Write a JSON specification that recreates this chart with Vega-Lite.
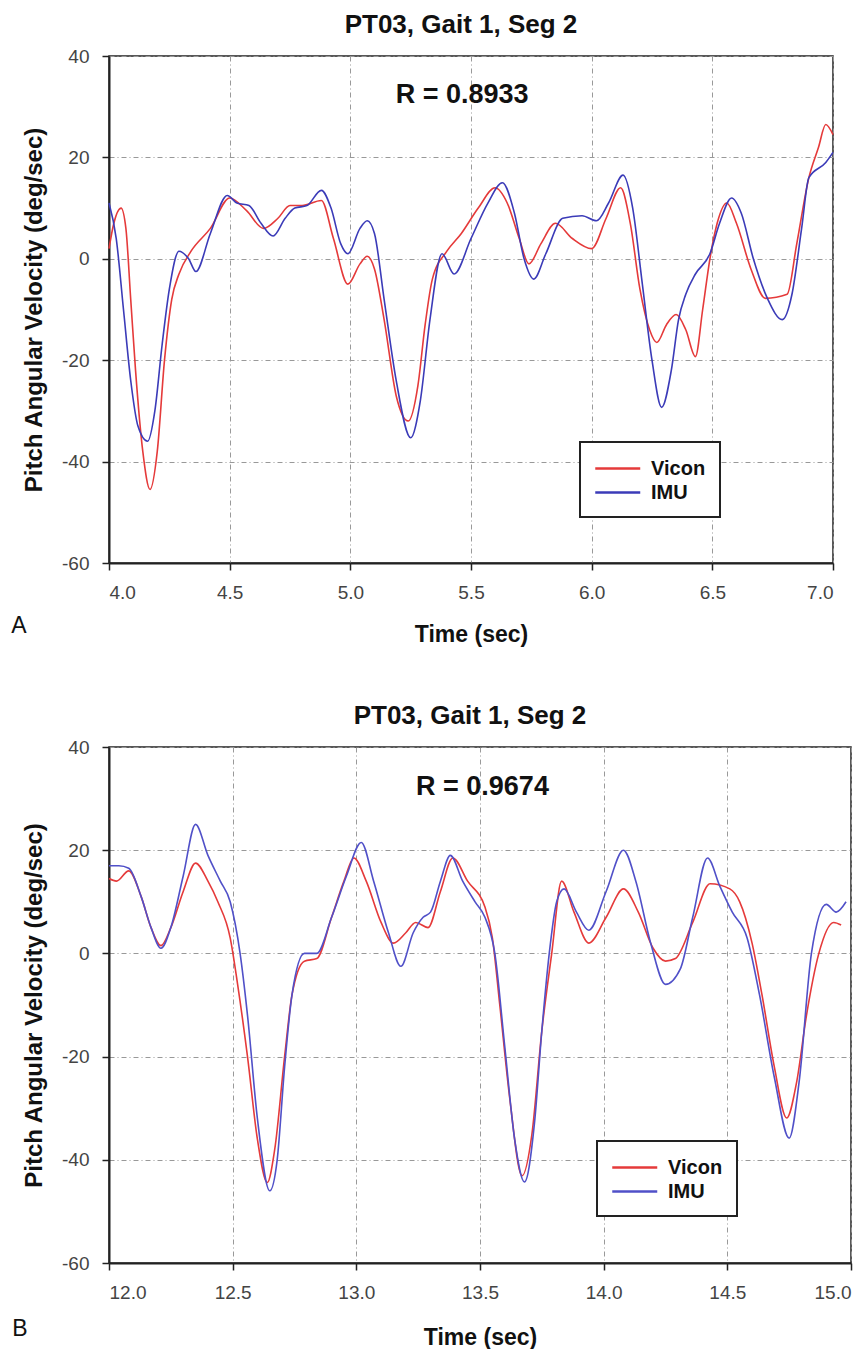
{
  "$schema": "https://vega.github.io/schema/vega-lite/v6.json",
  "background": "white",
  "padding": {"left": 10, "top": 11, "right": 10, "bottom": 0},
  "config": {
    "view": {"stroke": "#222", "strokeWidth": 1.5},
    "font": "Liberation Sans",
    "axis": {"grid": true, "gridColor": "#999", "gridDash": [5, 3, 1, 3], "gridWidth": 1, "domainColor": "#222", "domainWidth": 2, "tickColor": "#222", "tickSize": 7, "tickWidth": 1.5, "labelFont": "Liberation Sans", "labelFontSize": 19, "labelColor": "#444", "labelExpr": "datum.value < 0 ? '-' + toString(-datum.value) : datum.label", "titleFont": "Liberation Sans", "titleFontWeight": "bold", "titleColor": "#111", "titleLimit": 1000},
    "axisX": {"titleFontSize": 23, "titlePadding": 21, "labelPadding": 13},
    "axisY": {"titleFontSize": 24, "titlePadding": 15, "labelPadding": 13},
    "title": {"fontSize": 26, "fontWeight": "bold", "font": "Liberation Sans", "color": "#111", "dx": -10},
    "legend": {"strokeColor": "#222", "fillColor": "white", "padding": 14, "symbolType": "M-1,0H3", "symbolSize": 506, "symbolStrokeWidth": 2.5, "labelFont": "Liberation Sans", "labelFontSize": 20, "labelFontWeight": "bold", "labelColor": "#111", "labelOffset": 32, "rowPadding": 1}
  },
  "datasets": {
    "a": [
      {"t": 4.00, "v": 2, "series": "Vicon"}, {"t": 4.02, "v": 7, "series": "Vicon"}, {"t": 4.05, "v": 10, "series": "Vicon"}, {"t": 4.07, "v": 6, "series": "Vicon"}, {"t": 4.09, "v": -8, "series": "Vicon"}, {"t": 4.11, "v": -22, "series": "Vicon"}, {"t": 4.14, "v": -38, "series": "Vicon"}, {"t": 4.17, "v": -45.5, "series": "Vicon"}, {"t": 4.20, "v": -38, "series": "Vicon"}, {"t": 4.23, "v": -20, "series": "Vicon"}, {"t": 4.26, "v": -8, "series": "Vicon"}, {"t": 4.29, "v": -3, "series": "Vicon"}, {"t": 4.34, "v": 1.5, "series": "Vicon"}, {"t": 4.42, "v": 6, "series": "Vicon"}, {"t": 4.50, "v": 12, "series": "Vicon"}, {"t": 4.57, "v": 9.5, "series": "Vicon"}, {"t": 4.64, "v": 6, "series": "Vicon"}, {"t": 4.70, "v": 8, "series": "Vicon"}, {"t": 4.75, "v": 10.5, "series": "Vicon"}, {"t": 4.80, "v": 10.5, "series": "Vicon"}, {"t": 4.88, "v": 11.5, "series": "Vicon"}, {"t": 4.93, "v": 4, "series": "Vicon"}, {"t": 4.99, "v": -5, "series": "Vicon"}, {"t": 5.04, "v": -1, "series": "Vicon"}, {"t": 5.07, "v": 0.5, "series": "Vicon"}, {"t": 5.10, "v": -2, "series": "Vicon"}, {"t": 5.14, "v": -12, "series": "Vicon"}, {"t": 5.19, "v": -27, "series": "Vicon"}, {"t": 5.24, "v": -32, "series": "Vicon"}, {"t": 5.28, "v": -25, "series": "Vicon"}, {"t": 5.31, "v": -13, "series": "Vicon"}, {"t": 5.34, "v": -4, "series": "Vicon"}, {"t": 5.40, "v": 1.5, "series": "Vicon"}, {"t": 5.46, "v": 5, "series": "Vicon"}, {"t": 5.53, "v": 10, "series": "Vicon"}, {"t": 5.60, "v": 14, "series": "Vicon"}, {"t": 5.65, "v": 11, "series": "Vicon"}, {"t": 5.70, "v": 4, "series": "Vicon"}, {"t": 5.74, "v": -1, "series": "Vicon"}, {"t": 5.79, "v": 3, "series": "Vicon"}, {"t": 5.85, "v": 7, "series": "Vicon"}, {"t": 5.92, "v": 4, "series": "Vicon"}, {"t": 6.00, "v": 2, "series": "Vicon"}, {"t": 6.06, "v": 8, "series": "Vicon"}, {"t": 6.12, "v": 14, "series": "Vicon"}, {"t": 6.16, "v": 7, "series": "Vicon"}, {"t": 6.20, "v": -6, "series": "Vicon"}, {"t": 6.24, "v": -14, "series": "Vicon"}, {"t": 6.27, "v": -16.5, "series": "Vicon"}, {"t": 6.31, "v": -13, "series": "Vicon"}, {"t": 6.35, "v": -11, "series": "Vicon"}, {"t": 6.39, "v": -14, "series": "Vicon"}, {"t": 6.43, "v": -19.3, "series": "Vicon"}, {"t": 6.46, "v": -10, "series": "Vicon"}, {"t": 6.49, "v": 0, "series": "Vicon"}, {"t": 6.52, "v": 7, "series": "Vicon"}, {"t": 6.56, "v": 11, "series": "Vicon"}, {"t": 6.60, "v": 7, "series": "Vicon"}, {"t": 6.66, "v": -2, "series": "Vicon"}, {"t": 6.72, "v": -7.8, "series": "Vicon"}, {"t": 6.81, "v": -7, "series": "Vicon"}, {"t": 6.85, "v": 3, "series": "Vicon"}, {"t": 6.90, "v": 16, "series": "Vicon"}, {"t": 6.94, "v": 22, "series": "Vicon"}, {"t": 6.97, "v": 26.5, "series": "Vicon"}, {"t": 7.00, "v": 24.5, "series": "Vicon"},
      {"t": 4.00, "v": 11, "series": "IMU"}, {"t": 4.03, "v": 4, "series": "IMU"}, {"t": 4.06, "v": -10, "series": "IMU"}, {"t": 4.09, "v": -24, "series": "IMU"}, {"t": 4.12, "v": -33, "series": "IMU"}, {"t": 4.16, "v": -36, "series": "IMU"}, {"t": 4.19, "v": -30, "series": "IMU"}, {"t": 4.22, "v": -17, "series": "IMU"}, {"t": 4.25, "v": -6, "series": "IMU"}, {"t": 4.29, "v": 1.5, "series": "IMU"}, {"t": 4.33, "v": 0, "series": "IMU"}, {"t": 4.36, "v": -2.5, "series": "IMU"}, {"t": 4.42, "v": 5, "series": "IMU"}, {"t": 4.49, "v": 12.5, "series": "IMU"}, {"t": 4.53, "v": 11, "series": "IMU"}, {"t": 4.58, "v": 10.5, "series": "IMU"}, {"t": 4.63, "v": 7, "series": "IMU"}, {"t": 4.68, "v": 4.5, "series": "IMU"}, {"t": 4.73, "v": 8, "series": "IMU"}, {"t": 4.77, "v": 10, "series": "IMU"}, {"t": 4.82, "v": 10.5, "series": "IMU"}, {"t": 4.88, "v": 13.5, "series": "IMU"}, {"t": 4.92, "v": 10, "series": "IMU"}, {"t": 4.96, "v": 3, "series": "IMU"}, {"t": 4.99, "v": 1, "series": "IMU"}, {"t": 5.04, "v": 6, "series": "IMU"}, {"t": 5.07, "v": 7.5, "series": "IMU"}, {"t": 5.10, "v": 5, "series": "IMU"}, {"t": 5.14, "v": -8, "series": "IMU"}, {"t": 5.19, "v": -24, "series": "IMU"}, {"t": 5.25, "v": -35.3, "series": "IMU"}, {"t": 5.29, "v": -28, "series": "IMU"}, {"t": 5.33, "v": -12, "series": "IMU"}, {"t": 5.38, "v": 1, "series": "IMU"}, {"t": 5.43, "v": -3, "series": "IMU"}, {"t": 5.50, "v": 4, "series": "IMU"}, {"t": 5.57, "v": 11, "series": "IMU"}, {"t": 5.63, "v": 15, "series": "IMU"}, {"t": 5.68, "v": 9, "series": "IMU"}, {"t": 5.72, "v": 0, "series": "IMU"}, {"t": 5.76, "v": -4, "series": "IMU"}, {"t": 5.81, "v": 1, "series": "IMU"}, {"t": 5.88, "v": 8, "series": "IMU"}, {"t": 5.96, "v": 8.5, "series": "IMU"}, {"t": 6.02, "v": 7.5, "series": "IMU"}, {"t": 6.07, "v": 11, "series": "IMU"}, {"t": 6.13, "v": 16.5, "series": "IMU"}, {"t": 6.17, "v": 10, "series": "IMU"}, {"t": 6.21, "v": -5, "series": "IMU"}, {"t": 6.25, "v": -20, "series": "IMU"}, {"t": 6.29, "v": -29.3, "series": "IMU"}, {"t": 6.33, "v": -22, "series": "IMU"}, {"t": 6.36, "v": -12, "series": "IMU"}, {"t": 6.39, "v": -7, "series": "IMU"}, {"t": 6.43, "v": -3, "series": "IMU"}, {"t": 6.49, "v": 1, "series": "IMU"}, {"t": 6.53, "v": 7, "series": "IMU"}, {"t": 6.58, "v": 12, "series": "IMU"}, {"t": 6.62, "v": 9, "series": "IMU"}, {"t": 6.67, "v": 0, "series": "IMU"}, {"t": 6.73, "v": -8, "series": "IMU"}, {"t": 6.79, "v": -12, "series": "IMU"}, {"t": 6.83, "v": -7, "series": "IMU"}, {"t": 6.87, "v": 6, "series": "IMU"}, {"t": 6.90, "v": 16, "series": "IMU"}, {"t": 6.97, "v": 19, "series": "IMU"}, {"t": 7.00, "v": 21, "series": "IMU"}
    ],
    "b": [
      {"t": 12.00, "v": 14.5, "series": "Vicon"}, {"t": 12.03, "v": 14, "series": "Vicon"}, {"t": 12.08, "v": 16, "series": "Vicon"}, {"t": 12.13, "v": 11, "series": "Vicon"}, {"t": 12.17, "v": 5, "series": "Vicon"}, {"t": 12.21, "v": 1.5, "series": "Vicon"}, {"t": 12.25, "v": 5, "series": "Vicon"}, {"t": 12.30, "v": 12, "series": "Vicon"}, {"t": 12.35, "v": 17.5, "series": "Vicon"}, {"t": 12.40, "v": 14, "series": "Vicon"}, {"t": 12.44, "v": 10, "series": "Vicon"}, {"t": 12.49, "v": 3, "series": "Vicon"}, {"t": 12.52, "v": -6, "series": "Vicon"}, {"t": 12.56, "v": -20, "series": "Vicon"}, {"t": 12.60, "v": -36, "series": "Vicon"}, {"t": 12.64, "v": -44.4, "series": "Vicon"}, {"t": 12.67, "v": -38, "series": "Vicon"}, {"t": 12.71, "v": -20, "series": "Vicon"}, {"t": 12.74, "v": -8, "series": "Vicon"}, {"t": 12.79, "v": -1.5, "series": "Vicon"}, {"t": 12.84, "v": -1, "series": "Vicon"}, {"t": 12.90, "v": 7, "series": "Vicon"}, {"t": 12.95, "v": 14, "series": "Vicon"}, {"t": 12.99, "v": 18.5, "series": "Vicon"}, {"t": 13.04, "v": 14, "series": "Vicon"}, {"t": 13.10, "v": 6, "series": "Vicon"}, {"t": 13.15, "v": 2, "series": "Vicon"}, {"t": 13.20, "v": 4, "series": "Vicon"}, {"t": 13.24, "v": 6, "series": "Vicon"}, {"t": 13.29, "v": 5, "series": "Vicon"}, {"t": 13.34, "v": 12, "series": "Vicon"}, {"t": 13.39, "v": 18.5, "series": "Vicon"}, {"t": 13.45, "v": 14, "series": "Vicon"}, {"t": 13.52, "v": 9, "series": "Vicon"}, {"t": 13.55, "v": 3, "series": "Vicon"}, {"t": 13.58, "v": -10, "series": "Vicon"}, {"t": 13.62, "v": -28, "series": "Vicon"}, {"t": 13.67, "v": -43.1, "series": "Vicon"}, {"t": 13.71, "v": -35, "series": "Vicon"}, {"t": 13.75, "v": -15, "series": "Vicon"}, {"t": 13.79, "v": 0, "series": "Vicon"}, {"t": 13.83, "v": 14, "series": "Vicon"}, {"t": 13.88, "v": 8, "series": "Vicon"}, {"t": 13.94, "v": 2, "series": "Vicon"}, {"t": 14.01, "v": 7, "series": "Vicon"}, {"t": 14.08, "v": 12.5, "series": "Vicon"}, {"t": 14.14, "v": 8, "series": "Vicon"}, {"t": 14.20, "v": 1, "series": "Vicon"}, {"t": 14.25, "v": -1.5, "series": "Vicon"}, {"t": 14.29, "v": -1, "series": "Vicon"}, {"t": 14.36, "v": 6, "series": "Vicon"}, {"t": 14.43, "v": 13.5, "series": "Vicon"}, {"t": 14.51, "v": 12.5, "series": "Vicon"}, {"t": 14.55, "v": 10, "series": "Vicon"}, {"t": 14.60, "v": 2, "series": "Vicon"}, {"t": 14.64, "v": -8, "series": "Vicon"}, {"t": 14.69, "v": -22, "series": "Vicon"}, {"t": 14.74, "v": -31.9, "series": "Vicon"}, {"t": 14.78, "v": -25, "series": "Vicon"}, {"t": 14.82, "v": -12, "series": "Vicon"}, {"t": 14.87, "v": 0, "series": "Vicon"}, {"t": 14.93, "v": 6, "series": "Vicon"}, {"t": 14.96, "v": 5.5, "series": "Vicon"},
      {"t": 12.00, "v": 17, "series": "IMU"}, {"t": 12.04, "v": 17, "series": "IMU"}, {"t": 12.08, "v": 16.5, "series": "IMU"}, {"t": 12.13, "v": 11, "series": "IMU"}, {"t": 12.17, "v": 5, "series": "IMU"}, {"t": 12.21, "v": 1, "series": "IMU"}, {"t": 12.25, "v": 5, "series": "IMU"}, {"t": 12.30, "v": 15, "series": "IMU"}, {"t": 12.35, "v": 25, "series": "IMU"}, {"t": 12.40, "v": 19, "series": "IMU"}, {"t": 12.45, "v": 14, "series": "IMU"}, {"t": 12.49, "v": 10, "series": "IMU"}, {"t": 12.53, "v": 0, "series": "IMU"}, {"t": 12.56, "v": -12, "series": "IMU"}, {"t": 12.60, "v": -32, "series": "IMU"}, {"t": 12.65, "v": -46, "series": "IMU"}, {"t": 12.68, "v": -40, "series": "IMU"}, {"t": 12.71, "v": -22, "series": "IMU"}, {"t": 12.74, "v": -8, "series": "IMU"}, {"t": 12.79, "v": 0, "series": "IMU"}, {"t": 12.84, "v": 0, "series": "IMU"}, {"t": 12.90, "v": 7, "series": "IMU"}, {"t": 12.96, "v": 15, "series": "IMU"}, {"t": 13.02, "v": 21.5, "series": "IMU"}, {"t": 13.07, "v": 14, "series": "IMU"}, {"t": 13.13, "v": 4, "series": "IMU"}, {"t": 13.18, "v": -2.5, "series": "IMU"}, {"t": 13.23, "v": 4, "series": "IMU"}, {"t": 13.27, "v": 7, "series": "IMU"}, {"t": 13.30, "v": 8, "series": "IMU"}, {"t": 13.34, "v": 14, "series": "IMU"}, {"t": 13.38, "v": 19, "series": "IMU"}, {"t": 13.43, "v": 14, "series": "IMU"}, {"t": 13.48, "v": 10, "series": "IMU"}, {"t": 13.52, "v": 7, "series": "IMU"}, {"t": 13.56, "v": 0, "series": "IMU"}, {"t": 13.60, "v": -18, "series": "IMU"}, {"t": 13.64, "v": -36, "series": "IMU"}, {"t": 13.68, "v": -44.3, "series": "IMU"}, {"t": 13.72, "v": -33, "series": "IMU"}, {"t": 13.75, "v": -15, "series": "IMU"}, {"t": 13.78, "v": 0, "series": "IMU"}, {"t": 13.81, "v": 10, "series": "IMU"}, {"t": 13.84, "v": 12.5, "series": "IMU"}, {"t": 13.89, "v": 8, "series": "IMU"}, {"t": 13.94, "v": 4.5, "series": "IMU"}, {"t": 14.01, "v": 12, "series": "IMU"}, {"t": 14.08, "v": 20, "series": "IMU"}, {"t": 14.13, "v": 14, "series": "IMU"}, {"t": 14.19, "v": 2, "series": "IMU"}, {"t": 14.25, "v": -6, "series": "IMU"}, {"t": 14.31, "v": -3, "series": "IMU"}, {"t": 14.36, "v": 7, "series": "IMU"}, {"t": 14.42, "v": 18.5, "series": "IMU"}, {"t": 14.47, "v": 13, "series": "IMU"}, {"t": 14.52, "v": 8, "series": "IMU"}, {"t": 14.58, "v": 3, "series": "IMU"}, {"t": 14.63, "v": -8, "series": "IMU"}, {"t": 14.69, "v": -24, "series": "IMU"}, {"t": 14.75, "v": -35.8, "series": "IMU"}, {"t": 14.79, "v": -25, "series": "IMU"}, {"t": 14.84, "v": 0, "series": "IMU"}, {"t": 14.90, "v": 9.5, "series": "IMU"}, {"t": 14.94, "v": 8, "series": "IMU"}, {"t": 14.98, "v": 10, "series": "IMU"}
    ]
  },
  "spacing": 55,
  "resolve": {"scale": {"x": "independent", "y": "independent", "color": "independent"}, "legend": {"color": "independent"}},
  "vconcat": [
    {
      "width": 724, "height": 507,
      "title": {"text": "PT03, Gait 1, Seg 2", "offset": 9},
      "layer": [
        {
          "data": {"name": "a"},
          "mark": {"type": "line", "interpolate": "monotone", "strokeWidth": 1.6},
          "encoding": {
            "x": {"field": "t", "type": "quantitative", "scale": {"domain": [4, 7], "nice": false}, "axis": {"title": "Time (sec)", "values": [4, 4.5, 5, 5.5, 6, 6.5, 7], "format": ".1f"}},
            "y": {"field": "v", "type": "quantitative", "scale": {"domain": [-60, 40], "nice": false}, "axis": {"title": "Pitch Angular Velocity (deg/sec)", "values": [-60, -40, -20, 0, 20, 40]}},
            "color": {"field": "series", "type": "nominal", "scale": {"domain": ["Vicon", "IMU"], "range": ["#e53a3a", "#3b3bb8"]}, "legend": {"title": null, "orient": "none", "legendX": 471, "legendY": 386, "encode": {"legend": {"update": {"strokeWidth": {"value": 2}}}}}}
          }
        },
        {
          "data": {"values": [{}]},
          "mark": {"type": "text", "fontSize": 27, "fontWeight": "bold", "color": "#111"},
          "encoding": {"x": {"datum": 5.463}, "y": {"datum": 32.3}, "text": {"value": "R = 0.8933"}}
        },
        {
          "data": {"values": [{}]},
          "mark": {"type": "text", "fontSize": 23, "color": "#111"},
          "encoding": {"x": {"datum": 3.627}, "y": {"datum": -72.5}, "text": {"value": "A"}}
        }
      ]
    },
    {
      "width": 742, "height": 516,
      "title": {"text": "PT03, Gait 1, Seg 2", "offset": 9},
      "layer": [
        {
          "data": {"name": "b"},
          "mark": {"type": "line", "interpolate": "monotone", "strokeWidth": 1.6},
          "encoding": {
            "x": {"field": "t", "type": "quantitative", "scale": {"domain": [12, 15], "nice": false}, "axis": {"title": "Time (sec)", "values": [12, 12.5, 13, 13.5, 14, 14.5, 15], "format": ".1f", "titlePadding": 24}},
            "y": {"field": "v", "type": "quantitative", "scale": {"domain": [-60, 40], "nice": false}, "axis": {"title": "Pitch Angular Velocity (deg/sec)", "values": [-60, -40, -20, 0, 20, 40]}},
            "color": {"field": "series", "type": "nominal", "scale": {"domain": ["Vicon", "IMU"], "range": ["#e53a3a", "#5050c8"]}, "legend": {"title": null, "orient": "none", "legendX": 488, "legendY": 394, "encode": {"legend": {"update": {"strokeWidth": {"value": 2}}}}}}
          }
        },
        {
          "data": {"values": [{}]},
          "mark": {"type": "text", "fontSize": 27, "fontWeight": "bold", "color": "#111"},
          "encoding": {"x": {"datum": 13.51}, "y": {"datum": 32.2}, "text": {"value": "R = 0.9674"}}
        },
        {
          "data": {"values": [{}]},
          "mark": {"type": "text", "fontSize": 23, "color": "#111"},
          "encoding": {"x": {"datum": 11.64}, "y": {"datum": -72.8}, "text": {"value": "B"}}
        }
      ]
    }
  ]
}
